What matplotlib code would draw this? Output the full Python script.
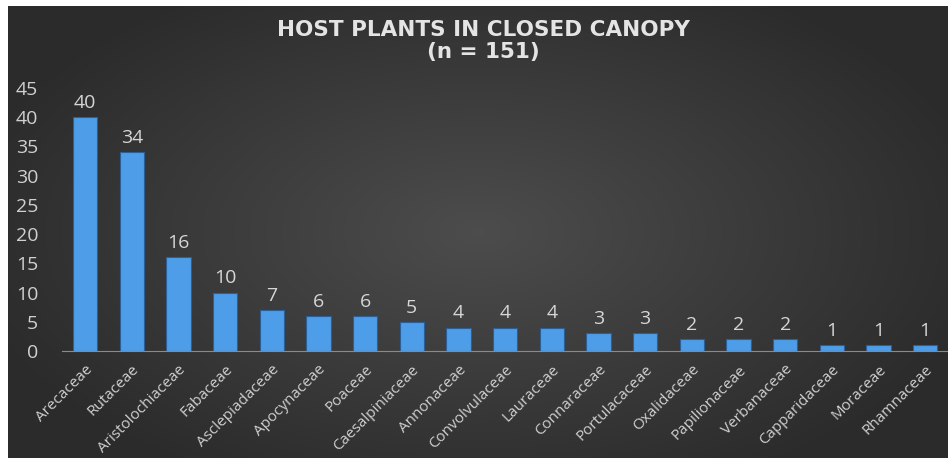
import numpy as np
import matplotlib
matplotlib.use('Agg')
import matplotlib.pyplot as plt

plt.rcParams['font.family'] = ['Open Sans', 'DejaVu Sans']

families = ['Arecaceae', 'Rutaceae', 'Aristolochiaceae', 'Fabaceae', 'Asclepiadaceae',
            'Apocynaceae', 'Poaceae', 'Caesalpiniaceae', 'Annonaceae', 'Convolvulaceae',
            'Lauraceae', 'Connaraceae', 'Portulacaceae', 'Oxalidaceae', 'Papilionaceae',
            'Verbanaceae', 'Capparidaceae', 'Moraceae', 'Rhamnaceae']
counts = [40, 34, 16, 10, 7, 6, 6, 5, 4, 4, 4, 3, 3, 2, 2, 2, 1, 1, 1]
y_ticks = [0, 5, 10, 15, 20, 25, 30, 35, 40, 45]

W, H = 948, 458
fig = plt.figure(figsize=(W / 100, H / 100), dpi=100, facecolor='white')

# dark gradient background (white strip on top/left as in the screenshot)
bg = fig.add_axes([8 / W, 0, 1 - 8 / W, 1 - 6 / H], zorder=-1)
gx, gy = np.meshgrid(np.linspace(-1, 1, 400), np.linspace(-1, 1, 200))
r = np.clip(np.sqrt((gx * 0.9) ** 2 + (gy * 0.8) ** 2), 0, 1)
shade = 0.30 - 0.13 * r
bg.imshow(np.dstack([shade, shade, shade]), aspect='auto', extent=[0, 1, 0, 1])
bg.axis('off')

ax = fig.add_axes([61.7 / W, 1 - 351 / H, (948.5 - 61.7) / W, (351 - 88) / H])
ax.set_facecolor('none')

x = np.arange(len(families))
ax.bar(x, counts, width=0.52, color='#4e9de8', edgecolor='#2c5f96', linewidth=0.8)

for xi, v in zip(x, counts):
    ax.text(xi, v + 0.9, str(v), ha='center', va='bottom', fontsize=14,
            color='#d6d6d6')

ax.set_xlim(-0.5, len(families) - 0.5)
ax.set_ylim(0, 45)
ax.set_yticks(y_ticks)
ax.tick_params(axis='y', length=0, pad=17, labelsize=14, labelcolor='#d0d0d0')
ax.set_xticks(x)
ax.set_xticklabels(families, rotation=45, ha='right', rotation_mode='anchor',
                   fontsize=11, color='#cfcfcf')
ax.tick_params(axis='x', length=0, pad=8)

for sp in ['top', 'right', 'left']:
    ax.spines[sp].set_visible(False)
ax.spines['bottom'].set_color('#8a8a8a')
ax.spines['bottom'].set_linewidth(0.8)

fig.text(483 / W, 1 - 29.5 / H, 'HOST PLANTS IN CLOSED CANOPY', ha='center', va='center',
         fontsize=15.5, fontweight='bold', color='#e4e4e4', family='DejaVu Sans')
fig.text(483 / W, 1 - 52 / H, '(n = 151)', ha='center', va='center',
         fontsize=15.5, fontweight='bold', color='#e4e4e4', family='DejaVu Sans')

fig.savefig('out.png', dpi=100)
